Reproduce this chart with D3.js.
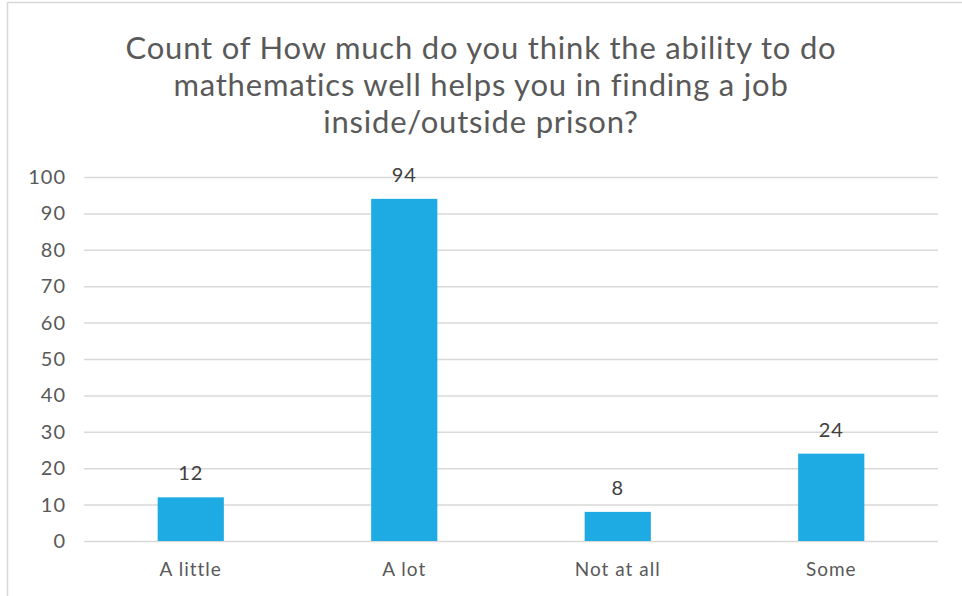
<!DOCTYPE html>
<html>
<head>
<meta charset="utf-8">
<script src="https://cdn.jsdelivr.net/npm/d3@7"></script>
<style>
  body { margin: 0; background: #fff; }
  text { font-family: "Lato", "Noto Sans", sans-serif; }
</style>
</head>
<body>
<div id="chart"></div>
<script>
const categories = ['A little', 'A lot', 'Not at all', 'Some'];
const counts = [12, 94, 8, 24];
const yTicks = [0, 10, 20, 30, 40, 50, 60, 70, 80, 90, 100];
const titleLines = [
    'Count of How much do you think the ability to do',
    'mathematics well helps you in finding a job',
    'inside/outside prison?'
];

const data = categories.map((c, i) => ({name: c, value: counts[i]}));

const width = 962;
const height = 596;
const margin = {top: 177, left: 84, bottom: 55, right: 24};

const x = d3.scaleBand()
    .domain(categories)
    .range([margin.left, width - margin.right])
    .paddingInner(0.69)
    .paddingOuter(0.345);

const y = d3.scaleLinear()
    .domain([0, 100])
    .range([height - margin.bottom, margin.top]);

const svg = d3.select('#chart').append('svg')
    .attr('width', width)
    .attr('height', height);

// chart area border (only top and left show inside the picture)
svg.append('rect')
    .attr('x', 7.5).attr('y', 2.5)
    .attr('width', width + 20).attr('height', height + 20)
    .attr('fill', 'none')
    .attr('stroke', '#d9d9d9')
    .attr('stroke-width', 1.5);

// title
svg.append('g')
    .selectAll('text').data(titleLines).enter().append('text')
    .attr('x', 481)
    .attr('y', (d, i) => 59 + i * 37)
    .attr('text-anchor', 'middle')
    .attr('fill', '#595959')
    .style('font-size', '31px')
    .style('letter-spacing', '0.8px')
    .text(d => d);

// gridlines + y labels
const yAxis = g => g
    .attr('transform', `translate(${margin.left}, 0)`)
    .call(d3.axisLeft(y)
        .tickValues(yTicks)
        .tickSize(-(width - margin.left - margin.right))
        .tickPadding(18))
    .call(g => g.select('.domain').remove())
    .call(g => g.selectAll('.tick line').attr('stroke', '#d9d9d9').attr('stroke-width', 1.5))
    .call(g => g.selectAll('.tick text')
        .attr('fill', '#595959')
        .style('font-size', '20px')
        .style('letter-spacing', '1px'));

svg.append('g').call(yAxis);

// x labels
const xAxis = g => g
    .attr('transform', `translate(0, ${height - margin.bottom})`)
    .call(d3.axisBottom(x).tickSize(0).tickPadding(22))
    .call(g => g.select('.domain').remove())
    .call(g => g.selectAll('.tick text')
        .attr('fill', '#595959')
        .style('font-size', '19px')
        .style('letter-spacing', '1px'));

svg.append('g').call(xAxis);

// bars
svg.append('g')
    .attr('fill', '#1eabe3')
    .selectAll('rect').data(data).enter().append('rect')
    .attr('x', d => x(d.name))
    .attr('y', d => y(d.value))
    .attr('height', d => y(0) - y(d.value))
    .attr('width', x.bandwidth());

// value labels
svg.append('g')
    .selectAll('text').data(data).enter().append('text')
    .attr('x', d => x(d.name) + x.bandwidth() / 2)
    .attr('y', d => y(d.value) - 17)
    .attr('text-anchor', 'middle')
    .attr('fill', '#404040')
    .style('font-size', '20px')
    .style('letter-spacing', '1px')
    .text(d => d.value);
</script>
</body>
</html>
